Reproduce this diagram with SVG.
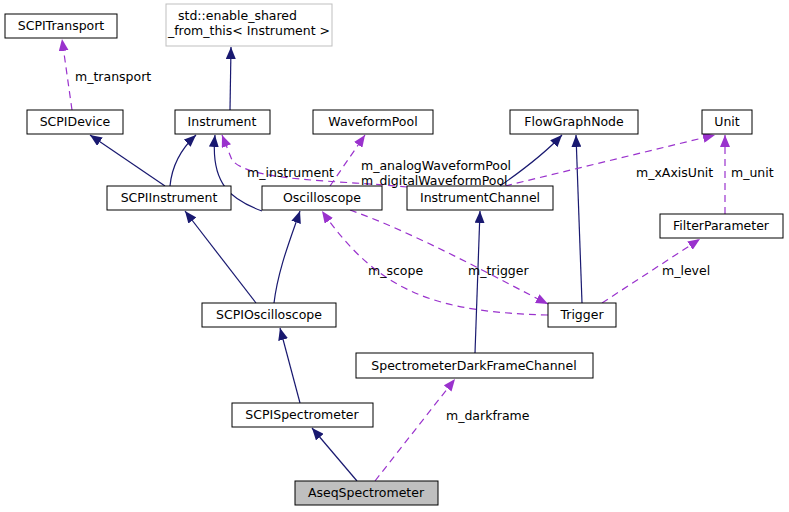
<svg xmlns="http://www.w3.org/2000/svg" width="789" height="512" viewBox="0 0 789 512">
<style>
.n rect{fill:#fff;stroke:#000;stroke-width:1}
text{font-family:"DejaVu Sans",sans-serif;font-size:12.5px;fill:#000}
.n text{text-anchor:middle}
.s{fill:none;stroke:#191970;stroke-width:1.2;marker-end:url(#an)}
.d{fill:none;stroke:#9a32cd;stroke-width:1.2;stroke-dasharray:7,5;marker-end:url(#ap)}
</style>
<defs>
<marker id="an" markerWidth="12" markerHeight="10" refX="12" refY="5" orient="auto" markerUnits="userSpaceOnUse"><path d="M0,0 L12,5 L0,10 Z" fill="#191970"/></marker>
<marker id="ap" markerWidth="12" markerHeight="10" refX="12" refY="5" orient="auto" markerUnits="userSpaceOnUse"><path d="M0,0 L12,5 L0,10 Z" fill="#9a32cd"/></marker>
</defs>
<rect width="789" height="512" fill="#fff"/>
<g id="edges">
<path class="s" d="M230,110 L231,47"/>
<path class="d" d="M72,110 L62,39"/>
<path class="s" d="M165,186 L90,135"/>
<path class="s" d="M170,186 C172,165 182,148 196,135"/>
<path class="s" d="M262,211 C232,200 210,185 215,135"/>
<path class="d" d="M407,187 C340,180 250,182 232,160 L222,135"/>
<path class="d" d="M330,186 L365,135"/>
<path class="s" d="M500,186 C530,165 548,150 562,135"/>
<path class="s" d="M582,303 L576,135"/>
<path class="d" d="M505,186 L715,135"/>
<path class="d" d="M725,214 L725,135"/>
<path class="d" d="M350,210 C420,235 500,280 548,304"/>
<path class="d" d="M548,315 C440,312 380,295 322,211"/>
<path class="d" d="M602,303 L700,239"/>
<path class="s" d="M256,303 L185,211"/>
<path class="s" d="M274,303 C278,270 290,240 300,211"/>
<path class="s" d="M475,353 L480,211"/>
<path class="s" d="M300,403 L280,328"/>
<path class="s" d="M357,481 L312,428"/>
<path class="d" d="M375,481 L455,379"/>
<text x="75" y="81">m_transport</text>
<text x="247" y="177">m_instrument</text>
<text x="361" y="170">m_analogWaveformPool</text>
<text x="361" y="185">m_digitalWaveformPool</text>
<text x="636" y="177">m_xAxisUnit</text>
<text x="731" y="177">m_unit</text>
<text x="368" y="275">m_scope</text>
<text x="468" y="275">m_trigger</text>
<text x="662" y="275">m_level</text>
<text x="446" y="420">m_darkframe</text>
</g>
<g id="SCPITransport" class="n"><rect x="5" y="14" width="112" height="24"/><text x="61" y="30">SCPITransport</text></g>
<g id="enable_shared" class="n"><rect x="166" y="4" width="166" height="42" style="stroke:#bfbfbf"/><text x="178" y="20" style="text-anchor:start">std::enable_shared</text><text x="249" y="35">_from_this&lt; Instrument &gt;</text></g>
<g id="SCPIDevice" class="n"><rect x="27" y="110" width="96" height="24"/><text x="75" y="126">SCPIDevice</text></g>
<g id="Instrument" class="n"><rect x="175" y="110" width="95" height="24"/><text x="222" y="126">Instrument</text></g>
<g id="WaveformPool" class="n"><rect x="313" y="110" width="120" height="24"/><text x="373" y="126">WaveformPool</text></g>
<g id="FlowGraphNode" class="n"><rect x="510" y="110" width="128" height="24"/><text x="574" y="126">FlowGraphNode</text></g>
<g id="Unit" class="n"><rect x="702" y="110" width="50" height="24"/><text x="727" y="126">Unit</text></g>
<g id="SCPIInstrument" class="n"><rect x="107" y="186" width="124" height="24"/><text x="169" y="202">SCPIInstrument</text></g>
<g id="Oscilloscope" class="n"><rect x="262" y="186" width="120" height="24"/><text x="322" y="202">Oscilloscope</text></g>
<g id="InstrumentChannel" class="n"><rect x="407" y="186" width="146" height="24"/><text x="480" y="202">InstrumentChannel</text></g>
<g id="FilterParameter" class="n"><rect x="660" y="214" width="123" height="24"/><text x="721" y="230">FilterParameter</text></g>
<g id="SCPIOscilloscope" class="n"><rect x="202" y="303" width="134" height="24"/><text x="269" y="319">SCPIOscilloscope</text></g>
<g id="Trigger" class="n"><rect x="548" y="303" width="68" height="24"/><text x="582" y="319">Trigger</text></g>
<g id="SpectrometerDarkFrameChannel" class="n"><rect x="356" y="353" width="237" height="25"/><text x="474" y="370">SpectrometerDarkFrameChannel</text></g>
<g id="SCPISpectrometer" class="n"><rect x="232" y="403" width="141" height="24"/><text x="302" y="419">SCPISpectrometer</text></g>
<g id="AseqSpectrometer" class="n"><rect x="295" y="481" width="143" height="24" style="fill:#bfbfbf"/><text x="366" y="497">AseqSpectrometer</text></g>
</svg>
